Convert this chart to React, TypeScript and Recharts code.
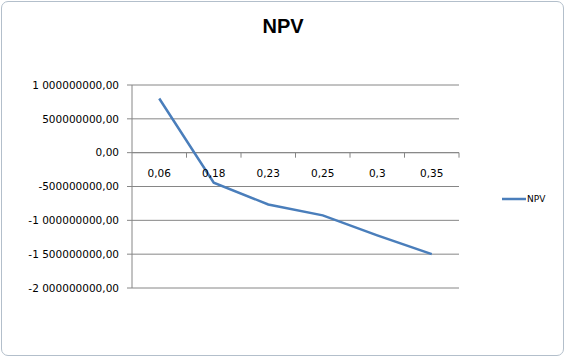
import { LineChart, Line, XAxis, YAxis, CartesianGrid, ReferenceLine, Legend } from 'recharts';

const RATES = ['0,06', '0,18', '0,23', '0,25', '0,3', '0,35'];
const NPV = [800000000, -445000000, -765000000, -927000000, -1223000000, -1500000000];
const Y_TICKS = [1000000000, 500000000, 0, -500000000, -1000000000, -1500000000, -2000000000];
const Y_TICK_LABELS = [
  '1 000000000,00',
  '500000000,00',
  '0,00',
  '-500000000,00',
  '-1 000000000,00',
  '-1 500000000,00',
  '-2 000000000,00',
];

const data = RATES.map((rate, i) => ({ rate, NPV: NPV[i] }));

const W = 568;
const H = 360;
const X_AXIS_H = 1; // recharts skips an axis whose height is 0
const MARGIN = { top: 85, right: 109, bottom: 72 - X_AXIS_H, left: 0 };
const Y_AXIS_W = 132;
const PLOT_W = W - Y_AXIS_W - MARGIN.right;
const PLOT_H = 360 - 85 - 72;
const BAND = PLOT_W / RATES.length;
const Y_MIN = -2000000000;
const Y_MAX = 1000000000;
// distance from the plot bottom up to the 0 line, where Excel crosses the category axis
const ZERO_SHIFT = (PLOT_H * (0 - Y_MIN)) / (Y_MAX - Y_MIN);

const FONT = '"DejaVu Sans", sans-serif';
const AXIS = '#868686';
const BLUE = '#4a7ebb';

function RateTick(props: any) {
  const { x, y, payload } = props;
  const y0 = y - ZERO_SHIFT;
  return (
    <g>
      <line x1={x + BAND / 2} x2={x + BAND / 2} y1={y0} y2={y0 + 5} stroke={AXIS} />
      <text x={x} y={y0 + 24} textAnchor="middle" fontSize={10.5} fill="#000" fontFamily={FONT}>
        {payload.value}
      </text>
    </g>
  );
}

export default function App() {
  return (
    <div style={{ position: 'absolute', left: 0, top: 0, width: W, height: H, background: '#fff' }}>
      <div
        style={{
          position: 'absolute',
          left: 1,
          top: 1,
          width: 563,
          height: 355,
          boxSizing: 'border-box',
          border: '1px solid #b3bfcb',
          borderRadius: 7,
        }}
      />
      <div
        style={{
          position: 'absolute',
          left: 0,
          top: 16,
          width: 566,
          textAlign: 'center',
          fontFamily: '"Liberation Sans", Arial, sans-serif',
          fontWeight: 'bold',
          fontSize: 20,
          lineHeight: '20px',
          color: '#000',
        }}
      >
        NPV
      </div>
      <LineChart width={W} height={H} data={data} margin={MARGIN} style={{ position: 'absolute', left: 0, top: 0, fontFamily: FONT }}>
        <CartesianGrid vertical={false} stroke={AXIS} />
        <XAxis
          dataKey="rate"
          height={X_AXIS_H}
          padding={{ left: BAND / 2, right: BAND / 2 }}
          axisLine={false}
          tickLine={false}
          tickSize={0}
          tickMargin={0}
          interval={0}
          tick={(p: any) => <RateTick {...p} />}
        />
        <YAxis
          width={Y_AXIS_W}
          domain={[Y_MIN, Y_MAX]}
          ticks={Y_TICKS}
          interval={0}
          tickFormatter={(v: number) => Y_TICK_LABELS[Y_TICKS.indexOf(v)] ?? String(v)}
          tickSize={5}
          tickMargin={8}
          axisLine={{ stroke: AXIS }}
          tickLine={{ stroke: AXIS }}
          tick={{ fontSize: 10.5, fill: '#000', fontFamily: FONT }}
        />
        <ReferenceLine y={0} stroke={AXIS} />
        <Legend
          layout="horizontal"
          verticalAlign="middle"
          align="center"
          wrapperStyle={{ left: 502, top: 192, width: 60, height: 14 }}
          content={({ payload }: any) => (
            <div>
              {(payload || []).map((p: any) => (
                <div key={p.value} style={{ display: 'flex', alignItems: 'center', height: 14, fontSize: 9, fontFamily: FONT, color: '#000' }}>
                  <svg width={24} height={4} style={{ display: 'block' }}>
                    <line x1={0} x2={24} y1={2} y2={2} stroke={p.color} strokeWidth={2.5} />
                  </svg>
                  <span style={{ marginLeft: 1 }}>{p.value}</span>
                </div>
              ))}
            </div>
          )}
        />
        <Line
          type="linear"
          dataKey="NPV"
          stroke={BLUE}
          strokeWidth={2.5}
          dot={false}
          activeDot={false}
          isAnimationActive={false}
        />
      </LineChart>
    </div>
  );
}
